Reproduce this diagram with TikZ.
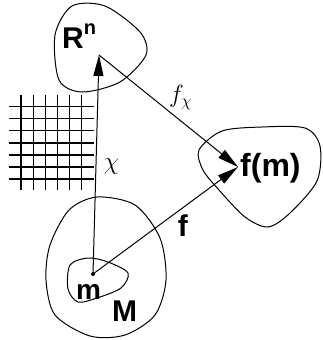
\documentclass[tikz,border=0pt]{standalone}
\usepackage{fontspec}
\setsansfont{Liberation Sans}
\usepackage{amsmath}
\usetikzlibrary{arrows.meta,positioning,calc}

\tikzset{
  lab/.style={font=\sffamily\bfseries\fontsize{30}{36}\selectfont,inner sep=0pt},
  mlab/.style={font=\fontsize{36}{42}\selectfont},
  blob/.style={line width=1pt},
  map/.style={line width=1pt,->},
}

\begin{document}
\begin{tikzpicture}[x=1pt,y=-1pt,>={Triangle[length=21pt,width=10pt]}]
\useasboundingbox (0,0) rectangle (322,340);
% regions
\draw[blob] plot[smooth cycle] coordinates {(55,35) (72,6) (105,6) (140,32) (146,55) (120,82) (82,92) (59,80)};
\draw[blob] plot[smooth cycle] coordinates {(199,150) (222,131) (262,127) (305,128) (320,146) (317,181) (290,213) (268,227) (245,217) (219,190) (203,170)};
\draw[blob] plot[smooth cycle] coordinates {(97,197) (69,210) (50,245) (46,280) (55,315) (90,336) (125,335) (155,315) (166,280) (160,238) (135,205)};
\draw[blob] plot[smooth cycle] coordinates {(70,265) (88,258) (108,262) (128,273) (121,288) (97,298) (78,302) (68,289)};
% chart grid
\foreach \i in {0,...,5}
  \draw[line width=1.3pt] ({21+12.15*\i},95) -- ++(0,95);
\foreach \j in {0,...,6}
  \draw[line width=1.3pt] (8.5,{106.7+12.05*\j}) -- ++(85,0);
% points
\coordinate (m) at (93,274);
\coordinate (rn) at (99,55);
\coordinate (fm) at (238,167);
\fill (m) circle (2pt);
% labels
\node (Rn) [lab,anchor=base west] at (62,48) {R\raisebox{14pt}{\fontsize{20}{20}\selectfont n}};
\node (fmlab) [lab,anchor=base west,font=\sffamily\bfseries\fontsize{32}{38}\selectfont] at (240,176) {f(m)};
\node (mlab) [lab,anchor=base west,font=\sffamily\bfseries\fontsize{28}{34}\selectfont] at (76,299) {m};
\node (Mlab) [lab,anchor=base west] at (112,321) {M};
% maps
\draw[map] (m) -- node[right=4pt,yshift=-2pt,mlab] {$\chi$} (rn);
\draw[map] (rn) -- node[above right,inner sep=0pt,yshift=1pt,font=\fontsize{27}{31}\selectfont] {$f_\chi$} (fm);
\draw[map] (m) -- node[below=7pt,pos=0.62,lab] {f} (fm);
\end{tikzpicture}
\end{document}
